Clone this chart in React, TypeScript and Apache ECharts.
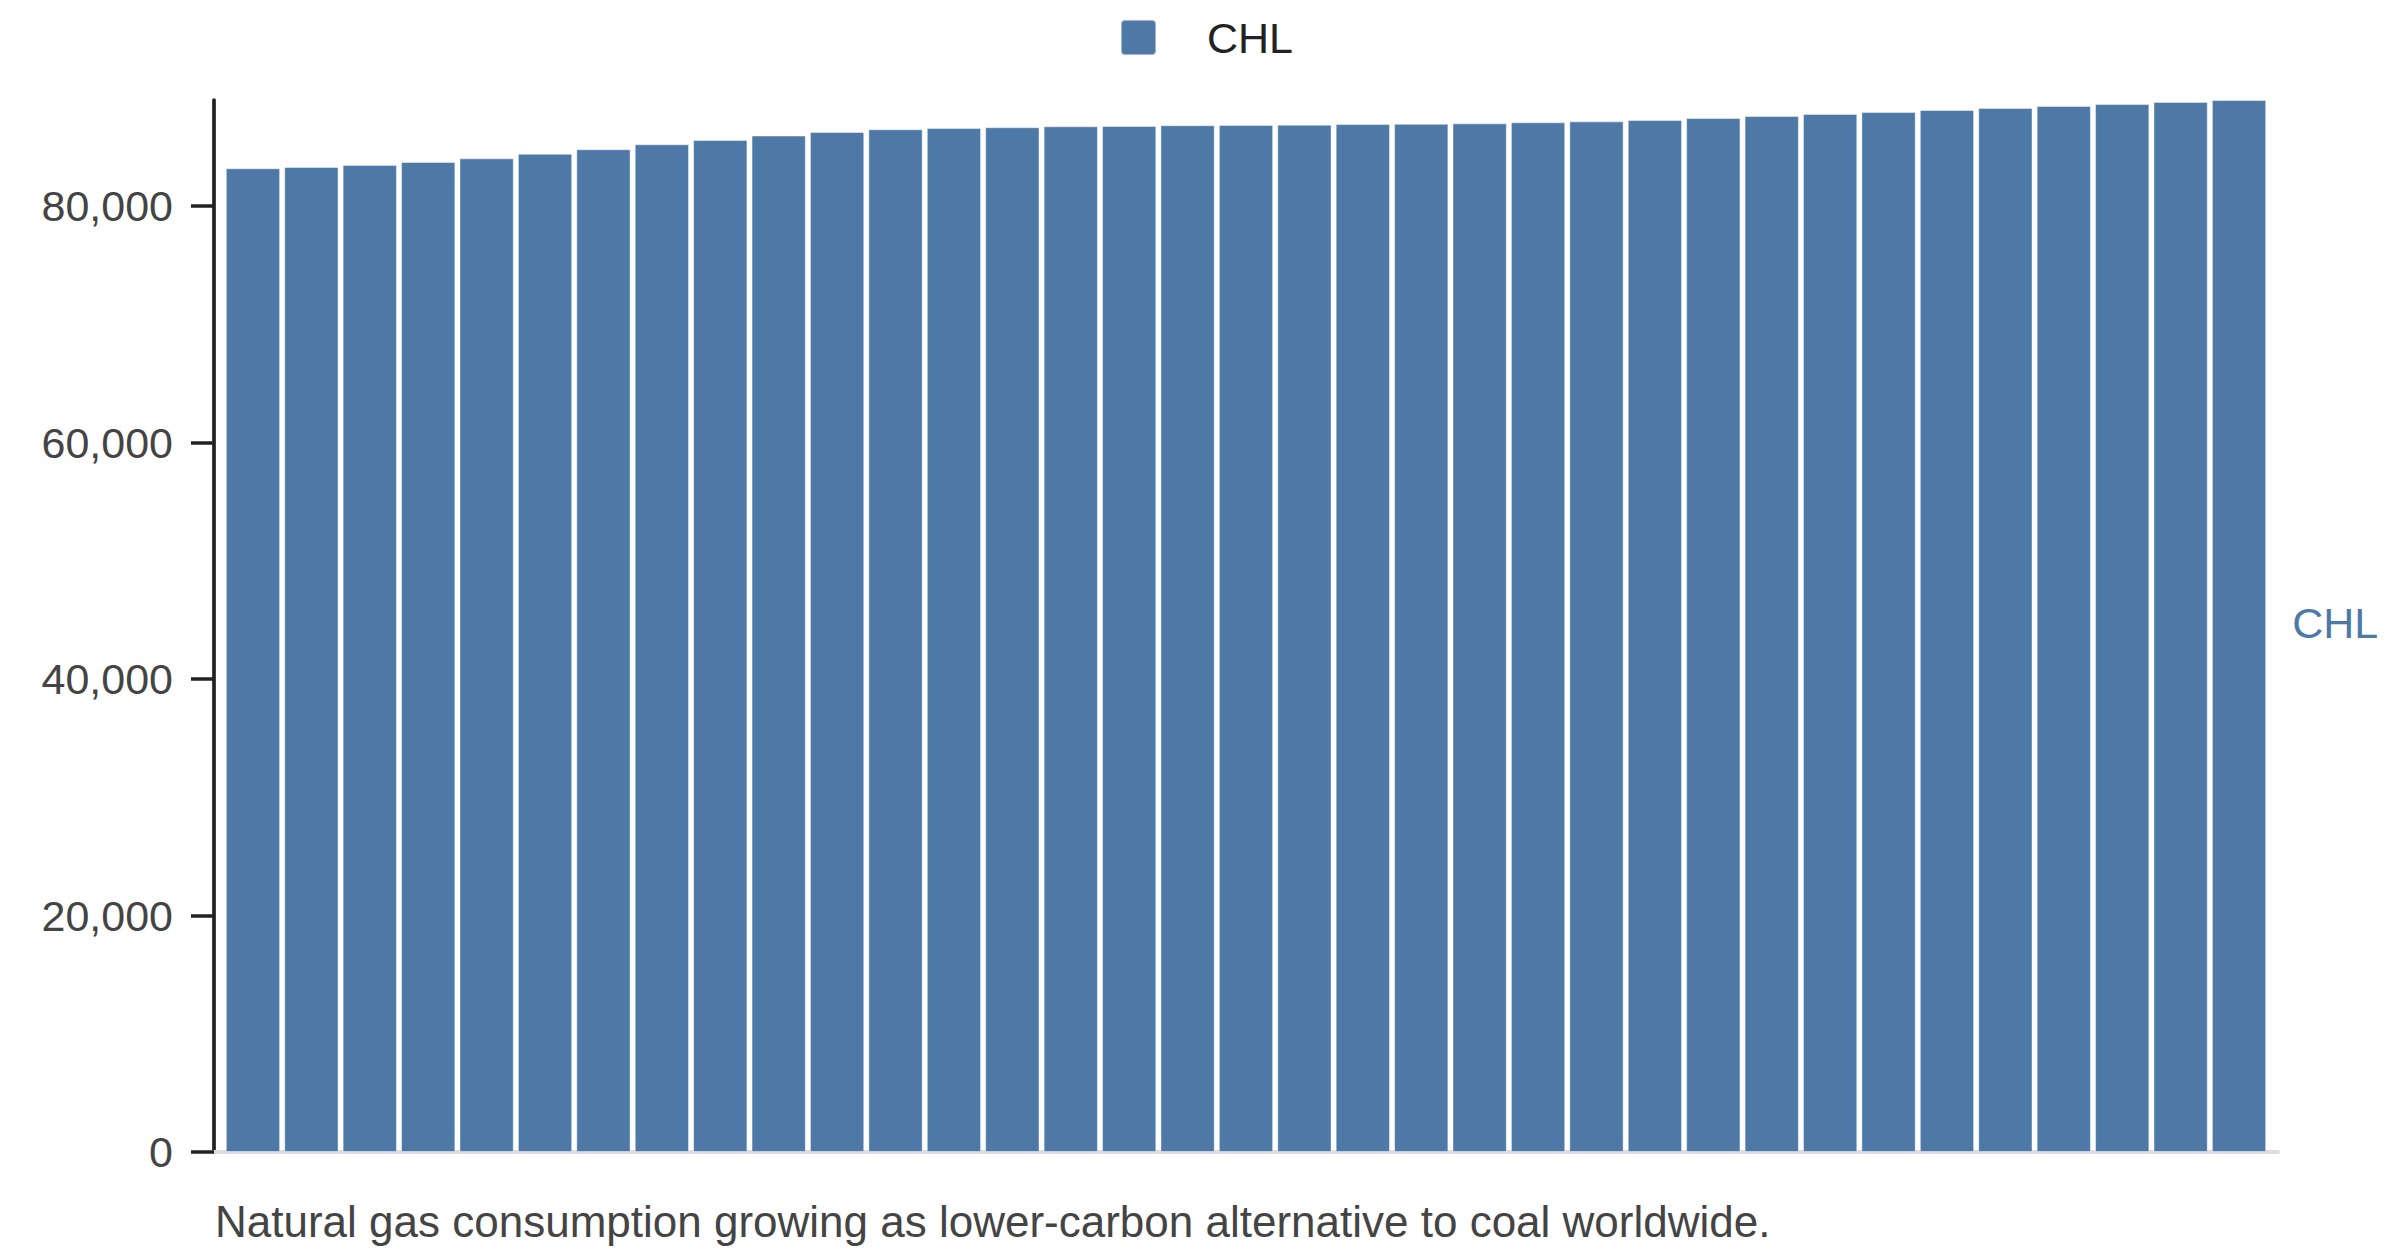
import React, { useEffect, useRef } from "react";
import * as echarts from "echarts";

const seriesName = "CHL";
const consumption = [
  83190, 83300, 83470, 83720, 84030, 84420, 84800, 85220, 85580, 85960,
  86260, 86490, 86600, 86660, 86740, 86770, 86830, 86850, 86880, 86930,
  86950, 86990, 87080, 87160, 87270, 87440, 87610, 87780, 87950, 88120,
  88290, 88460, 88630, 88800, 88965,
];
const yTicks = [0, 20000, 40000, 60000, 80000];
const caption =
  "Natural gas consumption growing as lower-carbon alternative to coal worldwide.";

const FONT = "'Liberation Sans', Arial, Helvetica, sans-serif";
const BLUE = "#4e79a7";

export default function App() {
  const ref = useRef<HTMLDivElement>(null);
  useEffect(() => {
    document.body.style.margin = "0";
    if (!ref.current) return;
    const chart = echarts.init(ref.current, undefined, { renderer: "svg" });
    const last = consumption.length - 1;
    const data = consumption.map((v, i) =>
      i === last
        ? {
            value: [i, v],
            label: {
              show: true,
              position: "right",
              distance: 26,
              offset: [0, -3],
              formatter: seriesName,
              color: BLUE,
              fontSize: 43,
              fontFamily: FONT,
            },
          }
        : [i, v]
    );
    chart.setOption({
      animation: false,
      backgroundColor: "#ffffff",
      textStyle: { fontFamily: FONT },
      legend: {
        show: true,
        left: 1115,
        top: 11,
        itemWidth: 35,
        itemHeight: 35,
        icon: "path://M4,0 H31 A4,4 0 0 1 35,4 V31 A4,4 0 0 1 31,35 H4 A4,4 0 0 1 0,31 V4 A4,4 0 0 1 4,0 Z",
        selectedMode: false,
        data: [{ name: seriesName, itemStyle: { color: BLUE } }],
        textStyle: {
          fontSize: 43,
          color: "#222222",
          fontFamily: FONT,
          padding: [0, 0, 0, 46],
        },
      },
      grid: { left: 214, right: 122, top: 100, bottom: 104, containLabel: false },
      xAxis: {
        type: "value",
        min: -0.667,
        max: consumption.length - 1 + 0.667,
        axisLine: { show: true, onZero: false, lineStyle: { color: "#dcdde1", width: 4 } },
        axisTick: { show: false },
        axisLabel: { show: false },
        splitLine: { show: false },
      },
      yAxis: {
        type: "value",
        min: 0,
        max: Math.max(...consumption),
        interval: 20000,
        axisLine: { show: true, onZero: false, lineStyle: { color: "#222222", width: 3.7 } },
        axisTick: {
          show: true,
          length: 23,
          customValues: yTicks,
          lineStyle: { color: "#222222", width: 3.5 },
        },
        axisLabel: {
          show: true,
          customValues: yTicks,
          margin: 41,
          fontSize: 43,
          color: "#444444",
          fontFamily: FONT,
          formatter: (v: number) => v.toLocaleString("en-US"),
        },
        splitLine: { show: false },
      },
      series: [
        {
          name: seriesName,
          type: "bar",
          barWidth: 54.3,
          data,
          itemStyle: {
            color: BLUE,
            borderColor: "rgba(255,255,255,0.45)",
            borderWidth: 1,
          },
        },
      ],
      graphic: [
        {
          type: "text",
          left: 215,
          top: 1199,
          style: {
            text: caption,
            fontSize: 44,
            fill: "#444444",
            fontFamily: FONT,
          },
        },
      ],
    });
    return () => chart.dispose();
  }, []);
  return <div ref={ref} style={{ width: 2400, height: 1256 }} />;
}
